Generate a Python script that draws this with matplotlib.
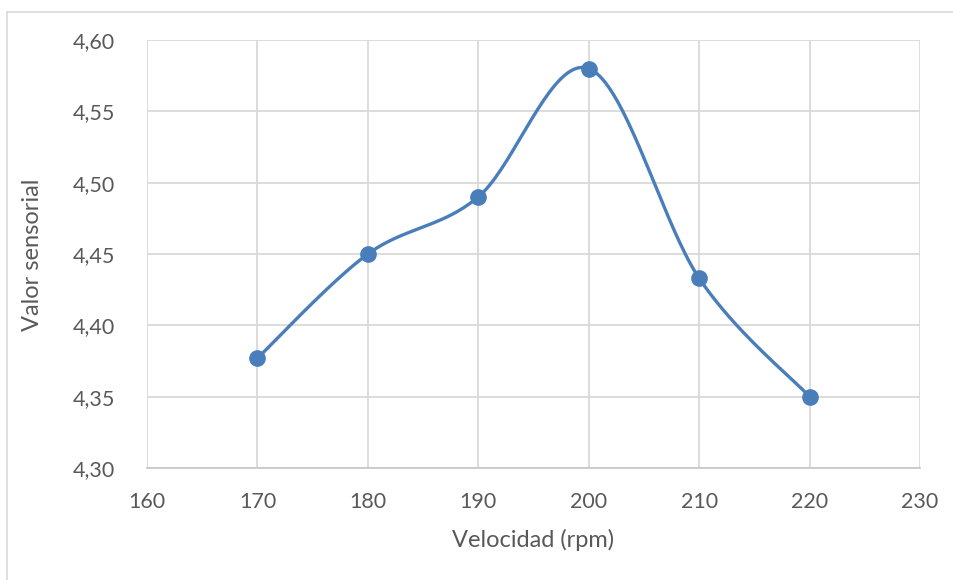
import numpy as np
import matplotlib
matplotlib.use("Agg")
import matplotlib.pyplot as plt
from matplotlib.lines import Line2D
from matplotlib.ticker import FuncFormatter, MultipleLocator

# Data
velocidad = [170, 180, 190, 200, 210, 220]
valor = [4.377, 4.45, 4.49, 4.58, 4.433, 4.35]
x_label = "Velocidad (rpm)"
y_label = "Valor sensorial"

plt.rcParams['font.family'] = ['Lato', 'DejaVu Sans']

BLUE = "#4A7EBB"
TXT = "#595959"
GRID = "#D9D9D9"


def smooth(xs, ys, n=40):
    """Excel-like smoothed line (Bezier with Catmull-Rom control points)."""
    P = np.column_stack([xs, ys]).astype(float)
    out = []
    m = len(P)
    for i in range(m - 1):
        p0 = P[i - 1] if i > 0 else P[i]
        p1 = P[i]
        p2 = P[i + 1]
        p3 = P[i + 2] if i + 2 < m else P[i + 1]
        c1 = p1 + (p2 - p0) / 6.0
        c2 = p2 - (p3 - p1) / 6.0
        t = np.linspace(0, 1, n)[:, None]
        seg = ((1 - t) ** 3) * p1 + 3 * ((1 - t) ** 2) * t * c1 + 3 * (1 - t) * t ** 2 * c2 + t ** 3 * p2
        out.append(seg if i == 0 else seg[1:])
    S = np.vstack(out)
    return S[:, 0], S[:, 1]


fig = plt.figure(figsize=(9.54, 5.80), dpi=100)
ax = fig.add_axes([147 / 954, 1 - 468 / 580, (920 - 147) / 954, (468 - 40) / 580])

sx, sy = smooth(velocidad, valor)
ax.plot(sx, sy, color=BLUE, lw=2.4, zorder=3, solid_capstyle='round')
ax.plot(velocidad, valor, ls='none', marker='o', ms=11, color=BLUE, zorder=4)

ax.set_xlim(160, 230)
ax.set_ylim(4.30, 4.60)
ax.xaxis.set_major_locator(MultipleLocator(10))
ax.yaxis.set_major_locator(MultipleLocator(0.05))
ax.yaxis.set_major_formatter(FuncFormatter(lambda v, p: f"{v:.2f}".replace(".", ",")))
ax.xaxis.set_major_formatter(FuncFormatter(lambda v, p: f"{v:.0f}"))

ax.grid(True, color=GRID, lw=1.3, zorder=0)
for s in ['top', 'right', 'left']:
    ax.spines[s].set_visible(False)
ax.spines['bottom'].set_color("#C8C8C8")
ax.spines['bottom'].set_linewidth(1.3)
ax.tick_params(axis='both', length=0, labelsize=15.5, colors=TXT)
ax.tick_params(axis='y', pad=23)
ax.tick_params(axis='x', pad=17)

fig.text(533 / 954, 1 - 540 / 580, x_label, ha='center', va='center', fontsize=17, color=TXT)
fig.text(33 / 954, 1 - 255 / 580, y_label, ha='center', va='center', rotation=90, fontsize=17, color=TXT)

# chart area border (left and top visible)
fig.add_artist(Line2D([7.5 / 954, 7.5 / 954], [0, 1 - 11.5 / 580], transform=fig.transFigure, color="#D9D9D9", lw=1.2))
fig.add_artist(Line2D([7.5 / 954, 1], [1 - 11.5 / 580, 1 - 11.5 / 580], transform=fig.transFigure, color="#D9D9D9", lw=1.2))

fig.savefig("out.png", dpi=100, facecolor="white")
